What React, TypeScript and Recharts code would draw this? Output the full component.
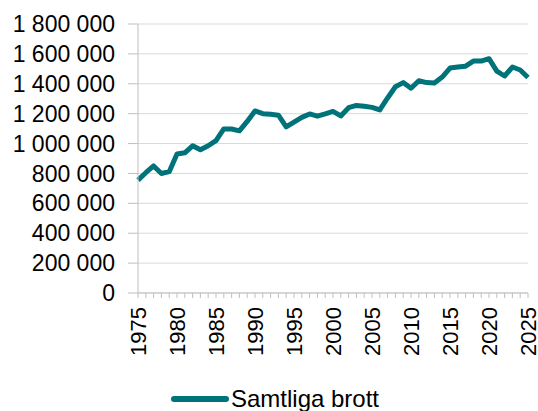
import React from "react";
import {
  LineChart,
  Line,
  XAxis,
  YAxis,
  CartesianGrid,
  Legend,
} from "recharts";

const years = [
  1975, 1976, 1977, 1978, 1979, 1980, 1981, 1982, 1983, 1984, 1985, 1986,
  1987, 1988, 1989, 1990, 1991, 1992, 1993, 1994, 1995, 1996, 1997, 1998,
  1999, 2000, 2001, 2002, 2003, 2004, 2005, 2006, 2007, 2008, 2009, 2010,
  2011, 2012, 2013, 2014, 2015, 2016, 2017, 2018, 2019, 2020, 2021, 2022,
  2023, 2024, 2025,
];

const samtligaBrott = [
  755000, 805000, 850000, 800000, 812000, 930000, 938000, 985000, 958000,
  985000, 1020000, 1098000, 1097000, 1085000, 1148000, 1218000, 1200000,
  1196000, 1190000, 1112000, 1143000, 1175000, 1198000, 1183000, 1198000,
  1215000, 1185000, 1240000, 1255000, 1250000, 1242000, 1225000, 1305000,
  1380000, 1408000, 1370000, 1420000, 1408000, 1405000, 1445000, 1505000,
  1512000, 1518000, 1552000, 1552000, 1568000, 1485000, 1452000, 1512000,
  1492000, 1442000,
];

const yTicks = [
  0, 200000, 400000, 600000, 800000, 1000000, 1200000, 1400000, 1600000,
  1800000,
];

const labelYears = [1975, 1980, 1985, 1990, 1995, 2000, 2005, 2010, 2015, 2020, 2025];

const data = years.map((year, i) => ({ year, value: samtligaBrott[i] }));

const FONT = "Arial, 'Liberation Sans', sans-serif";
const TEAL = "#00737a";

// swedish style thousands separator: 1 800 000
const formatNumber = (v: number) =>
  String(v).replace(/\B(?=(\d{3})+(?!\d))/g, " ");

const YearTick = (props: any) => {
  const { x, y, payload } = props;
  if (!labelYears.includes(payload.value)) return null;
  return (
    <text
      x={x}
      y={y}
      transform={`rotate(-90, ${x}, ${y})`}
      textAnchor="end"
      dy="0.36em"
      fontSize={22}
      fontFamily={FONT}
      fill="#000"
    >
      {payload.value}
    </text>
  );
};

const LegendContent = () => (
  <div
    style={{
      display: "flex",
      justifyContent: "center",
      alignItems: "center",
      height: 24,
      paddingTop: 10,
      paddingLeft: 22,
      fontFamily: FONT,
      fontSize: 24,
      color: "#000",
    }}
  >
    <span
      style={{
        display: "inline-block",
        width: 58,
        height: 6,
        borderRadius: 3,
        background: TEAL,
        marginRight: 2,
      }}
    />
    Samtliga brott
  </div>
);

const App = () => {
  return (
    <div style={{ position: "absolute", left: 0, top: 0 }}>
      <style>{`body { margin: 0; }`}</style>
      <LineChart
        width={538}
        height={411}
        data={data}
        margin={{ top: 24, right: 10, left: 0, bottom: 0 }}
      >
        <CartesianGrid vertical={false} stroke="#d9d9d9" strokeWidth={1} />
        <XAxis
          dataKey="year"
          type="number"
          domain={[1975, 2025]}
          ticks={years}
          interval={0}
          tickSize={5}
          tickMargin={9}
          height={84}
          axisLine={{ stroke: "#bfbfbf" }}
          tickLine={{ stroke: "#bfbfbf" }}
          tick={<YearTick />}
        />
        <YAxis
          domain={[0, 1800000]}
          ticks={yTicks}
          interval={0}
          width={138}
          tickSize={10}
          tickMargin={13}
          tickFormatter={formatNumber}
          axisLine={{ stroke: "#bfbfbf" }}
          tickLine={{ stroke: "#bfbfbf" }}
          tick={{ fontSize: 23, fontFamily: FONT, fill: "#000" }}
        />
        <Legend verticalAlign="bottom" content={<LegendContent />} />
        <Line
          type="linear"
          dataKey="value"
          stroke={TEAL}
          strokeWidth={5}
          strokeLinejoin="round"
          dot={false}
          isAnimationActive={false}
        />
      </LineChart>
    </div>
  );
};

export default App;
